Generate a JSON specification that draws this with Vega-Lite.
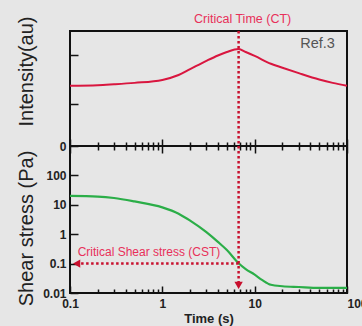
{
  "$schema": "https://vega.github.io/schema/vega-lite/v6.json",
  "background": "#e6e6e6",
  "padding": {"left": 14, "top": 12, "right": 0, "bottom": 0},
  "spacing": 0,
  "bounds": "flush",
  "config": {
    "view": {"stroke": "#111", "strokeWidth": 2},
    "axis": {
      "domain": false, "grid": false, "labelOverlap": false,
      "labelFont": "Liberation Sans", "labelFontWeight": "bold", "labelFontSize": 12, "labelColor": "#222",
      "tickColor": "#111", "tickWidth": 1.5,
      "titleFont": "Liberation Sans", "titleFontWeight": "normal", "titleFontSize": 20, "titleColor": "#222"
    }
  },
  "datasets": {
    "intensity": [
      {"t": 0.1, "v": 1.88}, {"t": 0.2, "v": 1.89}, {"t": 0.3, "v": 1.91}, {"t": 0.5, "v": 1.94},
      {"t": 1, "v": 2.0}, {"t": 1.5, "v": 2.1}, {"t": 2, "v": 2.22}, {"t": 3, "v": 2.39},
      {"t": 4, "v": 2.5}, {"t": 5, "v": 2.57}, {"t": 6.7, "v": 2.63}, {"t": 8, "v": 2.57},
      {"t": 10, "v": 2.49}, {"t": 15, "v": 2.33}, {"t": 20, "v": 2.25}, {"t": 30, "v": 2.14},
      {"t": 50, "v": 2.01}, {"t": 70, "v": 1.94}, {"t": 100, "v": 1.88}
    ],
    "shear": [
      {"t": 0.1, "v": 20}, {"t": 0.2, "v": 19}, {"t": 0.3, "v": 17}, {"t": 0.5, "v": 13},
      {"t": 1, "v": 8.2}, {"t": 1.5, "v": 5}, {"t": 2, "v": 2.9}, {"t": 3, "v": 1.18},
      {"t": 4, "v": 0.55}, {"t": 5, "v": 0.29}, {"t": 6.7, "v": 0.103}, {"t": 8, "v": 0.065},
      {"t": 10, "v": 0.042}, {"t": 12, "v": 0.028}, {"t": 15, "v": 0.019}, {"t": 20, "v": 0.017},
      {"t": 30, "v": 0.016}, {"t": 50, "v": 0.015}, {"t": 100, "v": 0.015}
    ],
    "ct": [{"t": 6.7, "v": 3, "v2": 0.65, "label": "Critical Time (CT)"}],
    "ref": [{"t": 74, "v": 2.73, "label": "Ref.3"}],
    "vline": [{"t": 6.7, "y1": 1000, "y2": 0.02}],
    "hline": [{"t1": 6.7, "t2": 0.125, "v": 0.1}],
    "arrows": [
      {"t": 6.7, "v": 0.018, "shape": "triangle-down"},
      {"t": 0.118, "v": 0.1, "shape": "triangle-left"}
    ],
    "cst": [{"t": 0.121, "v": 0.1, "label": "Critical Shear stress (CST)"}]
  },
  "vconcat": [
    {
      "width": 277, "height": 115,
      "layer": [
        {
          "data": {"name": "intensity"},
          "mark": {"type": "line", "color": "#d9163f", "strokeWidth": 2, "interpolate": "monotone"},
          "encoding": {
            "x": {"field": "t", "type": "quantitative",
              "scale": {"type": "log", "domain": [0.1, 100], "nice": false},
              "axis": {"orient": "bottom", "labels": false, "title": null,
                "values": [0.1,0.2,0.3,0.4,0.5,0.6,0.7,0.8,0.9,1,2,3,4,5,6,7,8,9,10,20,30,40,50,60,70,80,90,100],
                "tickSize": {"condition": {"test": "abs(log(datum.value)/LN10 - round(log(datum.value)/LN10)) < 0.001", "value": -7}, "value": -4}}},
            "y": {"field": "v", "type": "quantitative",
              "scale": {"domain": [0.65, 3], "nice": false, "zero": false},
              "axis": {"title": "Intensity(au)", "values": [0.65, 1, 1.5, 2, 2.5, 3],
                "labelOverlap": false,
                "labelExpr": "datum.value < 0.7 ? '0' : datum.value == 1 ? '1' : datum.value == 2 ? '2' : datum.value == 3 ? '3' : ''",
                "tickSize": -8, "labelPadding": 12,
                "titleX": -34, "titleY": 40}}
          }
        },
        {
          "data": {"name": "ct"},
          "mark": {"type": "rule", "color": "#c8102e", "strokeWidth": 2.5, "strokeDash": [2.5, 2.5]},
          "encoding": {
            "x": {"field": "t", "type": "quantitative"},
            "y": {"field": "v", "type": "quantitative"},
            "y2": {"field": "v2"}
          }
        },
        {
          "data": {"name": "ct"},
          "mark": {"type": "text", "color": "#e8305a", "fontSize": 12.5, "font": "Liberation Sans", "baseline": "bottom", "dy": -5, "dx": 4},
          "encoding": {
            "x": {"field": "t", "type": "quantitative"},
            "y": {"field": "v", "type": "quantitative"},
            "text": {"field": "label"}
          }
        },
        {
          "data": {"name": "ref"},
          "mark": {"type": "text", "color": "#555", "fontSize": 14.5, "font": "Liberation Sans", "align": "right", "baseline": "middle"},
          "encoding": {
            "x": {"field": "t", "type": "quantitative"},
            "y": {"field": "v", "type": "quantitative"},
            "text": {"field": "label"}
          }
        }
      ]
    },
    {
      "width": 277, "height": 147,
      "resolve": {"axis": {"x": "independent"}},
      "layer": [
        {
          "data": {"name": "shear"},
          "mark": {"type": "line", "color": "#2bae48", "strokeWidth": 2.2, "interpolate": "monotone"},
          "encoding": {
            "x": {"field": "t", "type": "quantitative",
              "scale": {"type": "log", "domain": [0.1, 100], "nice": false},
              "axis": {"orient": "bottom", "title": "Time (s)", "format": "~g",
                "titleFontWeight": "bold", "titleFontSize": 13, "titlePadding": 0,
                "labelOverlap": false,
                "values": [0.1,0.2,0.3,0.4,0.5,0.6,0.7,0.8,0.9,1,2,3,4,5,6,7,8,9,10,20,30,40,50,60,70,80,90,100],
                "labelExpr": "abs(log(datum.value)/LN10 - round(log(datum.value)/LN10)) < 0.001 ? datum.label : ''",
                "labelAlign": {"condition": {"test": "datum.value == 100", "value": "left"}, "value": "center"},
                "labelPadding": 12,
                "tickSize": {"condition": {"test": "abs(log(datum.value)/LN10 - round(log(datum.value)/LN10)) < 0.001", "value": -7}, "value": -4}}},
            "y": {"field": "v", "type": "quantitative",
              "scale": {"type": "log", "domain": [0.01, 1000], "nice": false},
              "axis": {"title": "Shear stress (Pa)", "values": [0.01, 0.1, 1, 10, 100], "format": "~g",
                "labelOverlap": false,
                "tickSize": -8, "labelPadding": 12, "titleX": -34, "titleY": 82}}
          }
        },
        {
          "data": {"name": "shear"},
          "mark": {"type": "line", "opacity": 0},
          "encoding": {
            "x": {"field": "t", "type": "quantitative",
              "axis": {"orient": "top", "labels": false, "title": null,
                "values": [0.1,0.2,0.3,0.4,0.5,0.6,0.7,0.8,0.9,1,2,3,4,5,6,7,8,9,10,20,30,40,50,60,70,80,90,100],
                "tickSize": {"condition": {"test": "abs(log(datum.value)/LN10 - round(log(datum.value)/LN10)) < 0.001", "value": -7}, "value": -4}}},
            "y": {"field": "v", "type": "quantitative"}
          }
        },
        {
          "data": {"name": "vline"},
          "mark": {"type": "rule", "color": "#c8102e", "strokeWidth": 2.5, "strokeDash": [2.5, 2.5]},
          "encoding": {
            "x": {"field": "t", "type": "quantitative", "axis": null},
            "y": {"field": "y1", "type": "quantitative"},
            "y2": {"field": "y2"}
          }
        },
        {
          "data": {"name": "hline"},
          "mark": {"type": "rule", "color": "#c8102e", "strokeWidth": 2.5, "strokeDash": [2.5, 2.5]},
          "encoding": {
            "x": {"field": "t1", "type": "quantitative", "axis": null},
            "x2": {"field": "t2"},
            "y": {"field": "v", "type": "quantitative"}
          }
        },
        {
          "data": {"name": "arrows"},
          "mark": {"type": "point", "filled": true, "color": "#c8102e", "size": 70, "opacity": 1},
          "encoding": {
            "x": {"field": "t", "type": "quantitative", "axis": null},
            "y": {"field": "v", "type": "quantitative"},
            "shape": {"field": "shape", "type": "nominal", "scale": null, "legend": null}
          }
        },
        {
          "data": {"name": "cst"},
          "mark": {"type": "text", "color": "#e8305a", "fontSize": 12, "font": "Liberation Sans", "align": "left", "baseline": "bottom", "dy": -5},
          "encoding": {
            "x": {"field": "t", "type": "quantitative", "axis": null},
            "y": {"field": "v", "type": "quantitative"},
            "text": {"field": "label"}
          }
        }
      ]
    }
  ]
}
